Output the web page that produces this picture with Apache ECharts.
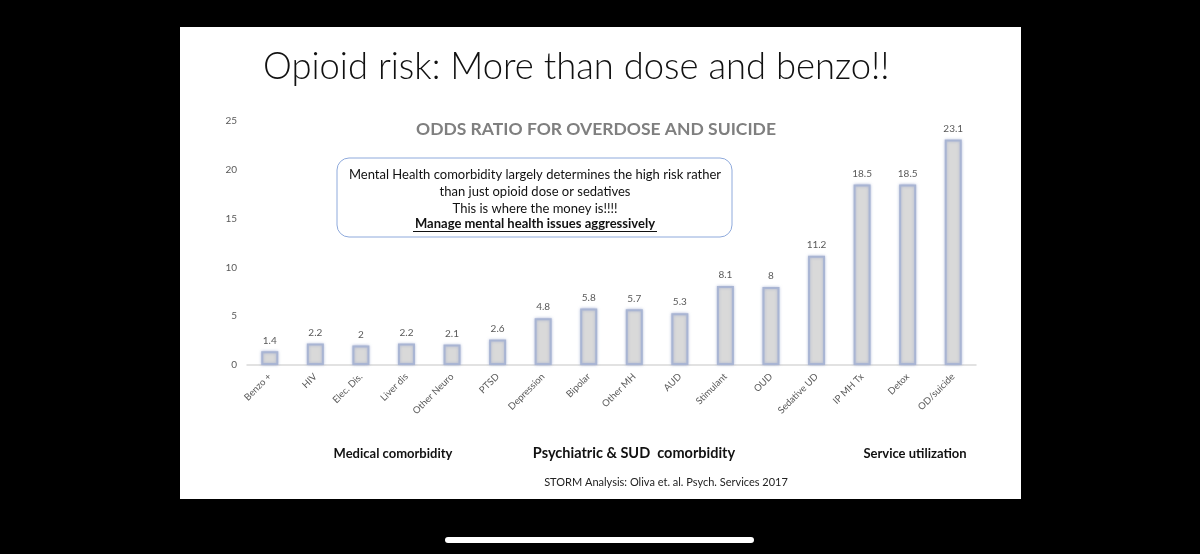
<!DOCTYPE html>
<html>
<head>
<meta charset="utf-8">
<script src="https://cdn.jsdelivr.net/npm/echarts@6/dist/echarts.min.js"></script>
<style>
  html, body { margin: 0; padding: 0; background: #000; }
  #chart { width: 1200px; height: 554px; }
</style>
</head>
<body>
<div id="chart"></div>
<script>
var categories = ['Benzo +', 'HIV', 'Elec. Dis.', 'Liver dis', 'Other Neuro', 'PTSD', 'Depression',
  'Bipolar', 'Other MH', 'AUD', 'Stimulant', 'OUD', 'Sedative UD', 'IP MH Tx', 'Detox', 'OD/suicide'];
var oddsRatio = [1.4, 2.2, 2, 2.2, 2.1, 2.6, 4.8, 5.8, 5.7, 5.3, 8.1, 8, 11.2, 18.5, 18.5, 23.1];
var groupLabels = ['Medical comorbidity', 'Psychiatric & SUD  comorbidity', 'Service utilization'];
var boxLines = ['Mental Health comorbidity largely determines the high risk rather',
  'than just opioid dose or sedatives',
  'This is where the money is!!!!'];
var boxBold = 'Manage mental health issues aggressively';

var dom = document.getElementById('chart');
var myChart = echarts.init(dom, null, { renderer: 'canvas' });
var font = 'Lato, "Open Sans", sans-serif';

var option = {
  backgroundColor: '#000',
  animation: false,
  grid: { left: 247, right: 224, top: 121, bottom: 189 },
  graphic: [
    // the slide
    { type: 'rect', z: -10, shape: { x: 180, y: 27, width: 841, height: 472 }, style: { fill: '#fff' } },
    // phone home bar
    { type: 'rect', shape: { x: 445, y: 537, width: 309, height: 6, r: 3 }, style: { fill: '#fff' } },
    { type: 'text', style: { x: 263, y: 49, text: 'Opioid risk: More than dose and benzo!!',
      fill: '#111', font: '300 36.4px ' + font } },
    { type: 'text', style: { x: 596, y: 120, text: 'ODDS RATIO FOR OVERDOSE AND SUICIDE', textAlign: 'center',
      fill: '#7f7f7f', font: 'bold 17.5px ' + font } },
    // callout box
    { type: 'rect', shape: { x: 337, y: 158, width: 395, height: 79, r: 12 },
      style: { fill: '#fff', stroke: '#8faadc', lineWidth: 1 } },
    { type: 'text', style: { x: 535, y: 166, text: boxLines.join('\n'), textAlign: 'center',
      fill: '#111', font: '13px ' + font, lineHeight: 17 } },
    { type: 'text', style: { x: 535, y: 217, text: boxBold, textAlign: 'center',
      fill: '#111', font: 'bold 13px ' + font } },
    { type: 'rect', shape: { x: 413, y: 231, width: 244, height: 1 }, style: { fill: '#111' } },
    // group labels
    { type: 'text', style: { x: 393, y: 447, text: groupLabels[0], textAlign: 'center', fill: '#111', font: 'bold 13px ' + font } },
    { type: 'text', style: { x: 634, y: 446, text: groupLabels[1], textAlign: 'center', fill: '#111', font: 'bold 14.5px ' + font } },
    { type: 'text', style: { x: 915, y: 447, text: groupLabels[2], textAlign: 'center', fill: '#111', font: 'bold 13px ' + font } },
    { type: 'text', style: { x: 666, y: 477, text: 'STORM Analysis: Oliva et. al. Psych. Services 2017',
      textAlign: 'center', fill: '#222', font: '11px ' + font } }
  ],
  xAxis: {
    type: 'category',
    data: categories,
    axisLine: { lineStyle: { color: '#d9d9d9', width: 1.5 } },
    axisTick: { show: false },
    axisLabel: { rotate: 45, color: '#595959', fontSize: 9.5, fontFamily: font, margin: 10, interval: 0 }
  },
  yAxis: {
    type: 'value',
    min: 0,
    max: 25,
    interval: 5,
    splitLine: { show: false },
    axisLine: { show: false },
    axisLabel: { color: '#595959', fontSize: 10, fontFamily: font, margin: 10 }
  },
  series: [{
    type: 'bar',
    data: oddsRatio,
    barWidth: 17,
    itemStyle: { color: '#d9d9d9', borderColor: '#a9b5d3', borderWidth: 2,
      shadowBlur: 3, shadowColor: 'rgba(140,155,200,0.6)' },
    label: { show: true, position: 'top', color: '#595959', fontSize: 10, fontFamily: font, distance: 6 }
  }]
};

myChart.setOption(option);
window.addEventListener('resize', myChart.resize);
</script>
</body>
</html>
